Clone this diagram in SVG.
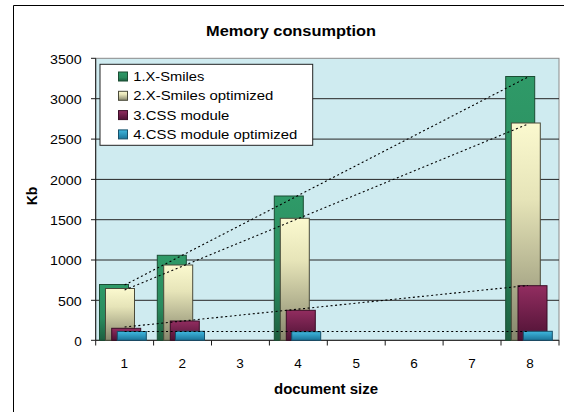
<svg xmlns="http://www.w3.org/2000/svg" width="564" height="412" viewBox="0 0 564 412">
<style>
text{font-family:"Liberation Sans",Arial,sans-serif;fill:#000}
.t{font-size:14px;font-weight:bold}
.ax{font-size:13.5px}
.lg{font-size:13.5px}
.grid{fill:none;stroke:#262626;stroke-width:1}
.axis{fill:none;stroke:#1a1a1a;stroke-width:1}
.trend{fill:none;stroke:#000;stroke-width:1.1;stroke-dasharray:2 2.6}
.g{fill:url(#gG);stroke:#1b4d33;stroke-width:1}
.y{fill:url(#gY);stroke:#4a4a3a;stroke-width:1}
.p{fill:url(#gP);stroke:#3a0d26;stroke-width:1}
.b{fill:url(#gB);stroke:#17506a;stroke-width:1}
</style>
<defs>
<linearGradient id="gG" x1="0" y1="0" x2="0" y2="1"><stop offset="0" stop-color="#2f9a68"/><stop offset="0.6" stop-color="#2a8b5e"/><stop offset="1" stop-color="#1c5e3f"/></linearGradient>
<linearGradient id="gY" x1="0" y1="0" x2="0" y2="1"><stop offset="0" stop-color="#fbf9cf"/><stop offset="0.35" stop-color="#e6e4b8"/><stop offset="1" stop-color="#86866c"/></linearGradient>
<linearGradient id="gP" x1="0" y1="0" x2="0" y2="1"><stop offset="0" stop-color="#922d60"/><stop offset="1" stop-color="#4e1234"/></linearGradient>
<linearGradient id="gB" x1="0" y1="0" x2="0" y2="1"><stop offset="0" stop-color="#3fb8df"/><stop offset="1" stop-color="#1b7499"/></linearGradient>
</defs>
<rect x="0" y="0" width="564" height="412" fill="#fff"/>
<g id="frame"><path d="M13.5 412V5.5H564" fill="none" stroke="#000" stroke-width="1"/></g>
<text class="t" x="291" y="36" text-anchor="middle" textLength="170" lengthAdjust="spacingAndGlyphs">Memory consumption</text>
<g id="plot">
<rect x="95.7" y="58.3" width="463.3" height="282" fill="#cfebf0" stroke="#8a8a8a"/>
<path class="grid" d="M95.7 300.3H559M95.7 260H559M95.7 219.7H559M95.7 179.4H559M95.7 139.1H559M95.7 98.7H559"/>
<path class="axis" d="M95.7 58.3V340.3H559M91 58.3H95.7M91 98.7H95.7M91 139.1H95.7M91 179.4H95.7M91 219.7H95.7M91 260H95.7M91 300.3H95.7M91 340.3H95.7M95.7 340.3V345.5M153.6 340.3V345.5M211.5 340.3V345.5M269.4 340.3V345.5M327.3 340.3V345.5M385.2 340.3V345.5M443.1 340.3V345.5M501 340.3V345.5M559 340.3V345.5"/>
</g>
<g id="ylabels" class="ax" text-anchor="end">
<text x="81.7" y="63.5" textLength="31.7" lengthAdjust="spacingAndGlyphs">3500</text>
<text x="81.7" y="103.9" textLength="31.7" lengthAdjust="spacingAndGlyphs">3000</text>
<text x="81.7" y="144.3" textLength="31.7" lengthAdjust="spacingAndGlyphs">2500</text>
<text x="81.7" y="184.6" textLength="31.7" lengthAdjust="spacingAndGlyphs">2000</text>
<text x="81.7" y="224.9" textLength="31.7" lengthAdjust="spacingAndGlyphs">1500</text>
<text x="81.7" y="265.2" textLength="31.7" lengthAdjust="spacingAndGlyphs">1000</text>
<text x="81.7" y="305.5" textLength="23.6" lengthAdjust="spacingAndGlyphs">500</text>
<text x="81.7" y="345.5">0</text>
</g>
<g id="xlabels" class="ax" text-anchor="middle">
<text x="124.2" y="367.5">1</text>
<text x="182.2" y="367.5">2</text>
<text x="240.1" y="367.5">3</text>
<text x="298" y="367.5">4</text>
<text x="356.2" y="367.5">5</text>
<text x="414.1" y="367.5">6</text>
<text x="472" y="367.5">7</text>
<text x="530" y="367.5">8</text>
</g>
<text class="t" x="326" y="394" text-anchor="middle" textLength="104" lengthAdjust="spacingAndGlyphs">document size</text>
<text class="t" transform="translate(36.5,196) rotate(-90)" text-anchor="middle">Kb</text>
<g id="cat1">
<rect class="g" x="99.5" y="284.5" width="29" height="55.8"/>
<rect class="y" x="105.5" y="288.5" width="29" height="51.8"/>
<rect class="p" x="111.7" y="328.3" width="29" height="12"/>
<rect class="b" x="117.3" y="331.5" width="29" height="8.8"/>
</g>
<g id="cat2">
<rect class="g" x="157.3" y="255.3" width="29" height="85"/>
<rect class="y" x="163.7" y="265" width="29" height="75.3"/>
<rect class="p" x="170.3" y="321" width="29" height="19.3"/>
<rect class="b" x="175.5" y="331.3" width="29" height="9"/>
</g>
<g id="cat4">
<rect class="g" x="274.3" y="196" width="29" height="144.3"/>
<rect class="y" x="280.3" y="218.3" width="29" height="122"/>
<rect class="p" x="286.3" y="310.3" width="29" height="30"/>
<rect class="b" x="291.7" y="331.7" width="29" height="8.6"/>
</g>
<g id="cat8">
<rect class="g" x="505.7" y="76.5" width="29" height="263.8"/>
<rect class="y" x="511.3" y="123" width="29" height="217.3"/>
<rect class="p" x="518" y="285.7" width="29" height="54.6"/>
<rect class="b" x="523.3" y="331.3" width="29" height="9"/>
</g>
<g id="connectors">
<path class="trend" d="M124.6 285L528 77"/>
<path class="trend" d="M124.6 290L528 124"/>
<path class="trend" d="M124.6 327L528 285.5"/>
<path class="trend" d="M124.6 331.5L528 331.5"/>
</g>
<g id="legend">
<rect x="100" y="64.3" width="212.7" height="81" fill="#fff" stroke="#222"/>
<rect class="g" x="118.5" y="72" width="9" height="9"/>
<rect class="y" x="118.5" y="91.3" width="9" height="9"/>
<rect class="p" x="118.5" y="110.6" width="9" height="9"/>
<rect class="b" x="118.5" y="129.9" width="9" height="9"/>
<text class="lg" x="133.3" y="81" textLength="71" lengthAdjust="spacingAndGlyphs">1.X-Smiles</text>
<text class="lg" x="133.3" y="100.3" textLength="140" lengthAdjust="spacingAndGlyphs">2.X-Smiles optimized</text>
<text class="lg" x="133.3" y="119.6" textLength="96" lengthAdjust="spacingAndGlyphs">3.CSS module</text>
<text class="lg" x="133.3" y="138.9" textLength="164" lengthAdjust="spacingAndGlyphs">4.CSS module optimized</text>
</g>
</svg>
